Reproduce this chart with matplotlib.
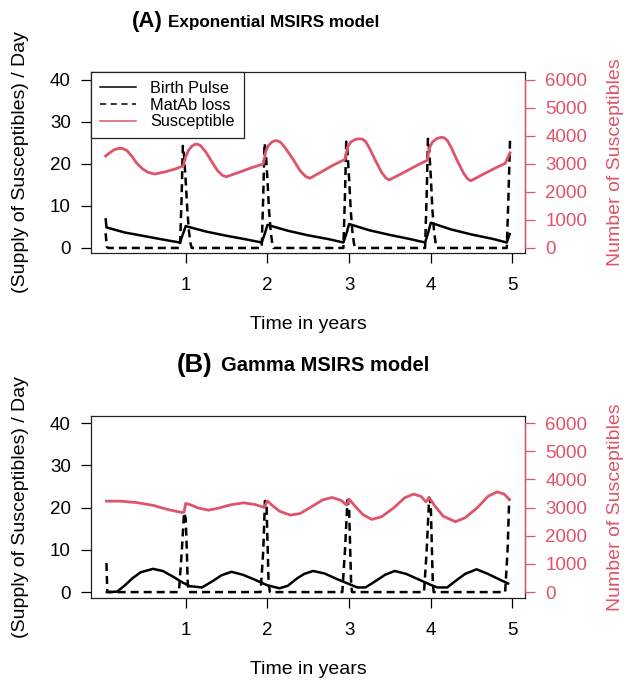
import matplotlib
matplotlib.use("Agg")
import matplotlib.pyplot as plt
from matplotlib.lines import Line2D
from matplotlib import font_manager

plt.rcParams['font.family'] = ['Liberation Sans', 'DejaVu Sans']

RED = "#DF536B"

# ---------------- data: panel A (Exponential MSIRS) ----------------
tA_S = [0.02, 0.07, 0.12, 0.17, 0.22, 0.28, 0.34, 0.40, 0.47, 0.54, 0.62, 0.75, 0.88, 0.97,
        1.00, 1.03, 1.07, 1.11, 1.14, 1.18, 1.24, 1.32, 1.39, 1.45, 1.50, 1.65, 1.80, 1.95,
        1.98, 2.01, 2.05, 2.09, 2.12, 2.16, 2.22, 2.32, 2.40, 2.47, 2.52, 2.65, 2.80, 2.95,
        2.98, 3.02, 3.07, 3.12, 3.16, 3.20, 3.25, 3.32, 3.40, 3.45, 3.49, 3.62, 3.80, 3.96,
        3.98, 4.02, 4.07, 4.12, 4.16, 4.20, 4.25, 4.32, 4.40, 4.45, 4.49, 4.62, 4.80, 4.91, 4.97]
SA = [3285, 3400, 3500, 3550, 3560, 3480, 3280, 3030, 2830, 2700, 2640, 2720, 2830, 2930,
      3250, 3470, 3620, 3700, 3710, 3660, 3450, 3080, 2760, 2590, 2545, 2700, 2860, 3000,
      3450, 3650, 3770, 3830, 3830, 3780, 3570, 3140, 2760, 2550, 2490, 2700, 2950, 3165,
      3600, 3780, 3870, 3900, 3890, 3810, 3560, 3140, 2690, 2500, 2430, 2620, 2900, 3140,
      3560, 3780, 3900, 3950, 3940, 3850, 3590, 3140, 2680, 2470, 2400, 2600, 2870, 3020, 3400]

tA_B = [0.02, 0.03, 0.25, 0.50, 0.75, 0.93,
        0.97, 1.00, 1.25, 1.50, 1.75, 1.93,
        1.97, 2.00, 2.25, 2.50, 2.75, 2.93,
        2.97, 3.00, 3.25, 3.50, 3.75, 3.93,
        3.97, 4.00, 4.25, 4.50, 4.75, 4.93, 4.97]
BA = [7.1, 4.9, 3.7, 2.8, 1.9, 1.3,
      3.5, 5.2, 3.9, 2.9, 2.0, 1.3,
      3.5, 5.5, 4.1, 3.0, 2.1, 1.3,
      3.6, 5.7, 4.2, 3.1, 2.1, 1.3,
      3.8, 6.0, 4.4, 3.2, 2.2, 1.3, 3.6]

tA_M = [0.02, 0.035, 0.05,
        0.93, 0.95, 0.965, 0.98, 1.00, 1.02, 1.04, 1.06, 1.075,
        1.93, 1.95, 1.965, 1.98, 2.00, 2.02, 2.04, 2.06, 2.075,
        2.93, 2.95, 2.965, 2.98, 3.00, 3.02, 3.04, 3.06, 3.075,
        3.93, 3.95, 3.965, 3.98, 4.00, 4.02, 4.04, 4.06, 4.075,
        4.93, 4.95, 4.97]
MA = [3.5, 0.3, 0.0,
      0.0, 12.0, 24.3, 22.0, 16.0, 9.0, 4.0, 1.0, 0.0,
      0.0, 13.0, 25.0, 23.0, 16.5, 9.0, 4.0, 1.0, 0.0,
      0.0, 13.0, 25.3, 23.0, 16.5, 9.0, 4.0, 1.0, 0.0,
      0.0, 13.0, 26.0, 23.5, 17.0, 9.0, 4.0, 1.0, 0.0,
      0.0, 12.0, 25.7]

# ---------------- data: panel B (Gamma MSIRS) ----------------
tB_S = [0.03, 0.20, 0.40, 0.60, 0.80, 0.95, 0.98,
        1.00, 1.06, 1.15, 1.28, 1.40, 1.55, 1.71, 1.85, 1.96,
        2.00, 2.06, 2.15, 2.28, 2.40, 2.55, 2.68, 2.79, 2.90, 2.97,
        3.00, 3.07, 3.17, 3.28, 3.40, 3.55, 3.68, 3.79, 3.88, 3.94,
        3.98, 4.05, 4.15, 4.30, 4.42, 4.57, 4.70, 4.81, 4.90, 4.96]
SB = [3230, 3230, 3180, 3080, 2920, 2830, 2840,
      3150, 3100, 2990, 2910, 2980, 3100, 3170, 3110, 3005,
      3240, 3080, 2870, 2735, 2790, 3050, 3280, 3360, 3260, 3090,
      3300, 3060, 2750, 2580, 2680, 3000, 3350, 3480, 3400, 3205,
      3360, 3060, 2700, 2500, 2640, 3000, 3400, 3560, 3480, 3290]

tB_B = [0.02, 0.16, 0.25, 0.35, 0.45, 0.60, 0.72, 0.85, 0.95,
        1.05, 1.20, 1.33, 1.44, 1.56, 1.70, 1.85, 2.00,
        2.15, 2.25, 2.36, 2.45, 2.56, 2.70, 2.85, 3.00,
        3.10, 3.20, 3.34, 3.44, 3.56, 3.70, 3.85, 4.00,
        4.08, 4.20, 4.30, 4.42, 4.56, 4.70, 4.85, 4.96]
BB = [0.0, 0.1, 1.5, 3.3, 4.7, 5.5, 5.0, 3.6, 2.4,
      1.4, 1.1, 2.6, 4.0, 4.8, 4.1, 2.9, 1.6,
      0.9, 1.5, 3.2, 4.3, 5.0, 4.4, 3.1, 1.9,
      1.1, 1.1, 2.8, 4.1, 5.0, 4.3, 3.0, 1.7,
      1.1, 1.1, 2.6, 4.3, 5.4, 4.3, 2.9, 1.9]

tB_M = [0.03, 0.04, 0.05,
        0.917, 0.95, 0.98, 1.00, 1.015, 1.025, 1.035,
        1.917, 1.95, 1.97, 1.99, 2.005, 2.015, 2.03,
        2.917, 2.95, 2.98, 3.00, 3.015, 3.025, 3.035,
        3.917, 3.95, 3.98, 4.00, 4.015, 4.025, 4.035,
        4.91, 4.94, 4.96]
MB = [6.9, 0.3, 0.0,
      0.0, 9.0, 18.8, 17.5, 9.0, 2.0, 0.0,
      0.0, 10.0, 21.6, 20.0, 9.0, 2.0, 0.0,
      0.0, 10.0, 21.8, 20.0, 9.0, 2.0, 0.0,
      0.0, 10.0, 22.4, 20.5, 9.0, 2.0, 0.0,
      0.0, 10.0, 22.2]

left_ticks = [0, 10, 20, 30, 40]
right_ticks = [0, 1000, 2000, 3000, 4000, 5000, 6000]
x_ticks = [1, 2, 3, 4, 5]
legend_labels = ["Birth Pulse", "MatAb loss", "Susceptible"]

W, H = 624, 681
fig = plt.figure(figsize=(W / 100, H / 100), dpi=100)
fig.patch.set_facecolor("white")


def px_rect(l, t, r, b):
    return [l / W, 1 - b / H, (r - l) / W, (b - t) / H]


def make_panel(rect, ylim, tS, S, tB, B, tM, M, legend=False):
    ax = fig.add_axes(rect)
    ax.set_xlim(-0.159, 5.153)
    ax.set_ylim(*ylim)
    ax.plot(tB, B, color="black", lw=1.8, solid_capstyle="butt")
    ax.plot(tM, M, color="black", lw=1.8, dashes=(3.2, 2.0))
    for s in ax.spines.values():
        s.set_linewidth(0.9)
        s.set_color("#222222")
    ax.set_yticks(left_ticks)
    ax.set_xticks(x_ticks)
    ax.tick_params(axis="y", length=7.5, width=0.9, labelsize=13.5, pad=7)
    ax.tick_params(axis="x", length=7.5, width=0.9, labelsize=13.5, pad=10)

    ax2 = ax.twinx()
    ax2.set_ylim(ylim[0] * 150, ylim[1] * 150)
    ax2.plot(tS, S, color=RED, lw=2.0)
    for k in ["left", "top", "bottom"]:
        ax2.spines[k].set_visible(False)
    ax2.spines["right"].set_color(RED)
    ax2.spines["right"].set_linewidth(0.9)
    ax2.spines["right"].set_bounds(0, 6000)
    ax2.set_yticks(right_ticks)
    ax2.tick_params(axis="y", colors=RED, length=7.5, width=0.9,
                    labelsize=13.5, pad=7)
    if legend:
        handles = [Line2D([], [], color="black", lw=1.1),
                   Line2D([], [], color="black", lw=1.1, dashes=(4, 3)),
                   Line2D([], [], color=RED, lw=1.1)]
        leg = ax2.legend(handles, legend_labels, loc="upper left",
                         bbox_to_anchor=(0, 1), borderaxespad=0,
                         fontsize=11.7, frameon=True, fancybox=False,
                         framealpha=1, edgecolor="#222222",
                         handlelength=2.2, handletextpad=0.9,
                         labelspacing=0.1, borderpad=0.55)
        leg.get_frame().set_linewidth(0.9)
    return ax, ax2


make_panel(px_rect(91, 72, 525, 253), (-1.2, 41.9), tA_S, SA, tA_B, BA, tA_M, MA,
           legend=True)
make_panel(px_rect(91, 416, 525, 598), (-1.4, 41.7), tB_S, SB, tB_B, BB, tB_M, MB)

# axis labels
for yc in (162, 507):
    fig.text(21 / W, 1 - yc / H, "(Supply of Susceptibles) / Day", rotation=90,
             ha="center", va="center", fontsize=14)
    fig.text(615 / W, 1 - yc / H, "Number of Susceptibles", rotation=90,
             ha="center", va="center", fontsize=14, color=RED)
for yc in (325, 670):
    fig.text(308 / W, 1 - yc / H, "Time in years", ha="center", va="center",
             fontsize=14)

# titles
names = {f.name for f in font_manager.fontManager.ttflist}
narrow = "Liberation Sans Narrow" in names
fig.text(132 / W, 1 - 22 / H, "(A)", ha="left", va="center", fontsize=16,
         fontweight="bold")
if narrow:
    fig.text(168 / W, 1 - 23 / H, "Exponential MSIRS model", ha="left",
             va="center", fontsize=14.5, fontweight="bold",
             family="Liberation Sans Narrow")
else:
    fig.text(168 / W, 1 - 23 / H, "Exponential MSIRS model", ha="left",
             va="center", fontsize=12.3, fontweight="bold")
fig.text(177 / W, 1 - 365 / H, "(B)", ha="left", va="center", fontsize=18.5,
         fontweight="bold")
fig.text(221 / W, 1 - 366 / H, "Gamma MSIRS model", ha="left", va="center",
         fontsize=14.5, fontweight="bold")

fig.savefig("out.png", dpi=100, facecolor="white")
